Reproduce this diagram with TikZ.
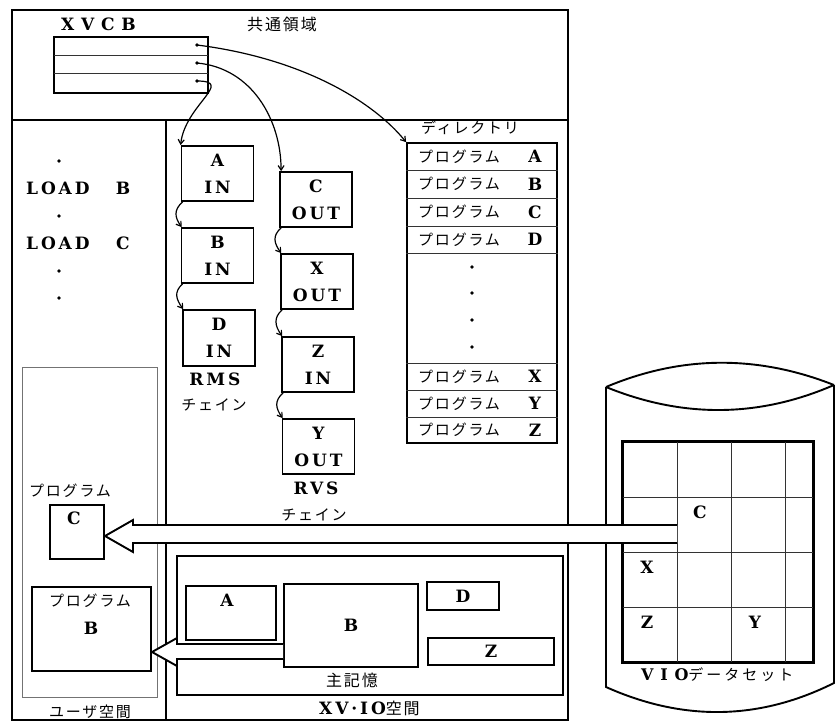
\documentclass[tikz,border=0pt]{standalone}
\usepackage{fontspec}
\setmainfont{DejaVu Serif}
\newfontfamily\lt[LetterSpace=17]{DejaVu Serif}
\newfontfamily\jp[LetterSpace=12]{Noto Sans CJK JP}
\newfontfamily\jpw[LetterSpace=20]{Noto Sans CJK JP}
\usetikzlibrary{arrows.meta,calc}
\begin{document}
\begin{tikzpicture}[x=1pt,y=-1pt,
  frame/.style={line width=1.9pt},
  thinl/.style={line width=0.8pt,black!80},
  box/.style={draw,line width=1.8pt,inner sep=0pt},
  lat/.style={font=\fontsize{17}{27}\selectfont\lt\bfseries, align=center, inner sep=0pt},
  jpt/.style={font=\fontsize{15}{18}\selectfont\jp, inner sep=0pt},
  chain/.style={line width=1.2pt,-{Straight Barb[length=4.5pt,width=6pt]}},
  blk/.style={fill=white,line width=1.9pt,line join=miter},
]
\useasboundingbox (0,0) rectangle (839,724);

% outer frame and dividers
\draw[frame] (12,10) rectangle (568,720);
\draw[frame] (12,120) -- (568,120);
\draw[frame] (166,120) -- (166,720);
\draw[line width=0.7pt,black!55] (22,367) rectangle (157,697);

% common area
\node[lat,anchor=west,font=\fontsize{17}{27}\selectfont\lt\addfontfeature{LetterSpace=40}\bfseries] (xvcbl) at (61,24) {XVCB};
\node[jpt,font=\fontsize{16}{18}\selectfont\jp] (common) at (282,24) {共通領域};
\node[box,minimum width=154pt,minimum height=56pt] (xvcb) at (131,65) {};
\draw[thinl] (54,55) -- (208,55);
\draw[thinl] (54,73) -- (208,73);
\coordinate (d1) at (197,45);
\coordinate (d2) at (197,63);
\coordinate (d3) at (197,81);
\foreach \d in {d1,d2,d3} \fill (\d) circle (1.8pt);

% user program text
\node[lat,anchor=west] (load1) at (26,188) {LOAD};
\node[lat] (load1b) at (123,188) {B};
\node[lat,anchor=west] (load2) at (26,243) {LOAD};
\node[lat] (load2c) at (123,243) {C};
\foreach \y [count=\i] in {161,216,271,298} \fill (59,\y) coordinate (ud\i) circle (1.9pt);

% RMS chain
\node[box,lat,minimum width=72pt,minimum height=55pt] (rA) at (217.5,173.5) {A\\IN};
\node[box,lat,minimum width=72pt,minimum height=55pt] (rB) at (217.5,255.5) {B\\IN};
\node[box,lat,minimum width=72pt,minimum height=56pt] (rD) at (219,338) {D\\IN};
\node[lat] (rms) at (215,379) {RMS};
\node[jpt] (rmsc) at (214,405) {チェイン};

% RVS chain
\node[box,lat,minimum width=72pt,minimum height=55pt] (vC) at (316,199.5) {C\\OUT};
\node[box,lat,minimum width=72pt,minimum height=55pt] (vX) at (317,281.5) {X\\OUT};
\node[box,lat,minimum width=72pt,minimum height=55pt] (vZ) at (318,364.5) {Z\\IN};
\node[box,lat,minimum width=72pt,minimum height=55pt] (vY) at (318.5,446.5) {Y\\OUT};
\node[lat] (rvs) at (316,488) {RVS};
\node[jpt] (rvsc) at (314,515) {チェイン};

% chain arrows
\draw[chain] ($(rA.south west)+(2,0)$) .. controls +(-9,8) and +(-7,-10) .. ($(rB.north west)+(1,0)$);
\draw[chain] ($(rB.south west)+(2,0)$) .. controls +(-9,8) and +(-7,-10) .. ($(rD.north west)+(1,0)$);
\draw[chain] ($(vC.south west)+(2,0)$) .. controls +(-9,8) and +(-7,-10) .. ($(vX.north west)+(1,0)$);
\draw[chain] ($(vX.south west)+(2,0)$) .. controls +(-9,8) and +(-7,-10) .. ($(vZ.north west)+(1,0)$);
\draw[chain] ($(vZ.south west)+(2,0)$) .. controls +(-9,8) and +(-7,-10) .. ($(vY.north west)+(1,0)$);

% directory
\node[jpt] (dirl) at (470,128) {ディレクトリ};
\node[box,minimum width=150pt,minimum height=300pt] (dir) at (482,293) {};
\foreach \y in {170,198,226,253,363,390,417} \draw[thinl] (dir.west |- 0,\y) -- (dir.east |- 0,\y);
\foreach \y/\l in {156.5/A,184/B,212/C,239.5/D,376.5/X,403.5/Y,430/Z} {
  \node[jpt,anchor=west] (dp\l) at (418,\y) {プログラム};
  \node[lat] (dl\l) at (535,\y) {\l};
}
\foreach \y [count=\i] in {267,293,320,347} \fill (472,\y) coordinate (dd\i) circle (1.8pt);

% XVCB pointers
\draw[chain] (d1) .. controls (300,58) and (372,100) .. (dir.north west);
\draw[chain] (d2) .. controls (252,68) and (281,120) .. ($(vC.north west)+(2,0)$);
\draw[chain] (d3) .. controls (235,81) and (185,105) .. (rA.north west);

% user space programs
\node[jpt] (pCl) at (70,491) {プログラム};
\node[box,minimum width=54pt,minimum height=54pt] (pC) at (77,532) {};
\node[lat] (pCt) at (74,518) {C};
\node[box,minimum width=119pt,minimum height=84pt] (pB) at (91.5,629) {};
\node[jpt] (pBl) at (90,601) {プログラム};
\node[lat] (pBt) at (91,628) {B};
\node[jpt] (user) at (90,712) {ユーザ空間};

% XV-IO space
\node[box,minimum width=386pt,minimum height=139pt] (xvio) at (370,625.5) {};
\node[box,minimum width=90pt,minimum height=54pt] (mA) at (231,613) {};
\node[lat] (mAt) at (227,600) {A};
\node[box,lat,minimum width=134pt,minimum height=83pt] (mB) at (351,625.5) {B};
\node[box,lat,minimum width=72pt,minimum height=28pt] (mD) at (463,596) {D};
\node[box,lat,minimum width=126pt,minimum height=27pt] (mZ) at (491,651.5) {Z};
\node[jpt,font=\fontsize{16}{18}\selectfont\jp] (main) at (352,680) {主記憶};
\node[lat,anchor=west] (xviol) at (319,708) {XV·IO\jp\mdseries\fontsize{16}{18}\selectfont 空間};

% VIO data set cylinder
\draw[frame] (606,387) -- (606,687) .. controls (682,721) and (758,721) .. (834,683) -- (834,385);
\draw[frame] (606,387) .. controls (682,355) and (758,355) .. (834,385);
\draw[frame] (606,387) .. controls (682,418) and (758,418) .. (834,385);
\node[box,minimum width=190pt,minimum height=220pt] (grid) at (718,552) {};
\foreach \x in {677,731,785} \draw[thinl] (\x,442) -- (\x,662);
\foreach \y in {497,552,607} \draw[thinl] (623,\y) -- (813,\y);
\draw[line width=1.8pt] (grid.north west) rectangle (grid.south east);
\node[lat] (gC) at (700,512) {C};
\node[lat] (gX) at (647,567) {X};
\node[lat] (gZ) at (647,622) {Z};
\node[lat] (gY) at (755,622) {Y};
\node[lat,anchor=west,font=\fontsize{16}{27}\selectfont\lt\addfontfeature{LetterSpace=42}\bfseries] (vio) at (641,675) {VIO\jpw\mdseries\fontsize{15}{18}\selectfont データセット};

% block arrows
\coordinate (bigtail) at (677,534);
\coordinate (bigtip) at (105,536);
\draw[blk] (677,525) -- (133,525) -- (133,520) -- (bigtip) -- (133,552) -- (133,543) -- (677,543);
\coordinate (smtip) at (152,652);
\draw[blk] (mB.west |- 0,644) -- (177,644) -- (177,638) -- (smtip) -- (177,666) -- (177,659) -- (mB.west |- 0,659);
\end{tikzpicture}
\end{document}
